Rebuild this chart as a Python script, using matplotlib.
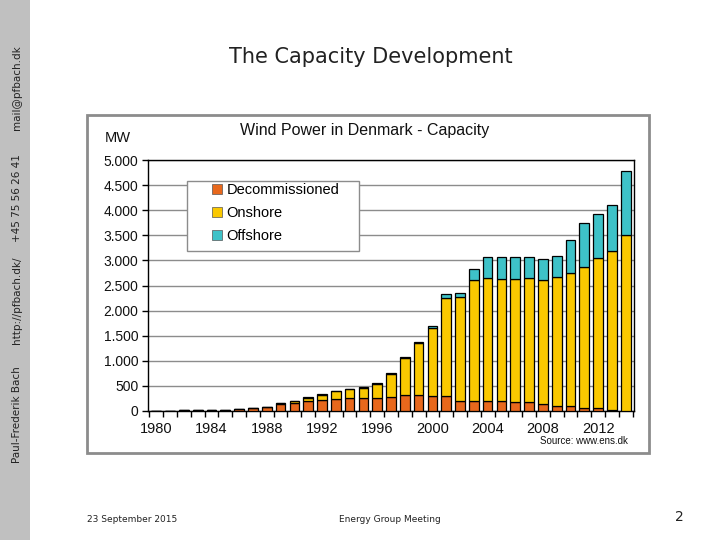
import matplotlib
matplotlib.use('Agg')
import matplotlib.pyplot as plt
import numpy as np
from matplotlib.patches import Patch, Rectangle
from matplotlib.ticker import FuncFormatter, MultipleLocator

# --- data (MW) ---
years = list(range(1980, 2015))
decommissioned = [5, 7, 10, 20, 22, 25, 45, 65, 85, 140, 150, 193, 219, 239, 252,
                  259, 262, 279, 312, 312, 295, 299, 193, 193, 193, 193, 179, 173,
                  133, 106, 93, 53, 53, 13, 0]
onshore = [0, 0, 0, 0, 0, 0, 0, 0, 0, 20, 50, 75, 109, 156, 183,
           202, 279, 468, 747, 1046, 1352, 1958, 2084, 2417, 2450, 2430, 2457, 2470,
           2477, 2557, 2650, 2809, 2988, 3168, 3506]
offshore = [0, 0, 0, 0, 0, 0, 0, 0, 0, 0, 0, 5, 5, 5, 5,
            10, 10, 10, 10, 10, 40, 74, 67, 212, 418, 438, 438, 431,
            424, 431, 657, 877, 877, 916, 1275]
series_names = ['Decommissioned', 'Onshore', 'Offshore']
x_labels = list(range(1980, 2013, 4))

colors = ['#E8681C', '#FAC800', '#3EC2C8']

W, H = 720, 540
fig = plt.figure(figsize=(W/100, H/100), dpi=100)
fig.patch.set_facecolor('white')

# left sidebar
fig.add_artist(Rectangle((0, 0), 30/W, 1, transform=fig.transFigure,
                         facecolor='#C0C0C0', edgecolor='none', zorder=0))
side_texts = [('Paul-Frederik Bach', 415), ('http://pfbach.dk/', 300),
              ('+45 75 56 26 41', 198), ('mail@pfbach.dk', 88)]
for txt, yc in side_texts:
	fig.text(17/W, 1 - yc/H, txt, rotation=90, ha='center', va='center',
	         fontsize=7.5, color='#222222', family='DejaVu Sans')

# slide title & footer
fig.text(371/W, 1 - 57/H, 'The Capacity Development', ha='center', va='center',
         fontsize=15, color='#222222', family='DejaVu Sans')
fig.text(87/W, 1 - 519/H, '23 September 2015', ha='left', va='center',
         fontsize=6.5, color='#222222')
fig.text(390/W, 1 - 519/H, 'Energy Group Meeting', ha='center', va='center',
         fontsize=6.5, color='#222222')
fig.text(679/W, 1 - 517/H, '2', ha='center', va='center',
         fontsize=10, color='#222222')

# chart picture frame
fig.add_artist(Rectangle((87/W, 1 - 453/H), (649-87)/W, (453-115)/H,
                         transform=fig.transFigure, facecolor='white',
                         edgecolor='#8C8C8C', linewidth=2, zorder=0.5))
fig.text(365/W, 1 - 131/H, 'Wind Power in Denmark - Capacity', ha='center',
         va='center', fontsize=11.5, family='Liberation Sans', color='#111111')
fig.text(118/W, 1 - 138/H, 'MW', ha='center', va='center', fontsize=10.5,
         family='Liberation Sans', color='#111111')
fig.text(628/W, 1 - 441/H, 'Source: www.ens.dk', ha='right', va='center',
         fontsize=7, family='Liberation Sans', color='#111111')

ax = fig.add_axes((148/W, 1 - 411/H, (634-148)/W, (411-160)/H))
ax.set_facecolor('white')
ax.set_zorder(1)

x = np.array(years)
dec = np.array(decommissioned)
ons = np.array(onshore)
off = np.array(offshore)
bar_kw = dict(width=0.7, edgecolor='black', linewidth=0.9, zorder=3)
ax.bar(x, dec, color=colors[0], **bar_kw)
ax.bar(x, ons, bottom=dec, color=colors[1], **bar_kw)
ax.bar(x, off, bottom=dec + ons, color=colors[2], **bar_kw)

ax.set_xlim(1979.4, 2014.6)
ax.set_ylim(0, 5000)
ax.yaxis.set_major_locator(MultipleLocator(500))
ax.yaxis.set_major_formatter(FuncFormatter(lambda v, p: f'{v:,.0f}'.replace(',', '.')))
ax.grid(axis='y', color='#8C8C8C', linewidth=1, zorder=0)
ax.set_axisbelow(True)

ax.set_xticks(x_labels)
ax.set_xticklabels([str(v) for v in x_labels])
ax.set_xticks(np.arange(1979.5, 2015, 1), minor=True)
ax.tick_params(axis='x', which='major', length=0, pad=8, labelsize=10.5)
ax.tick_params(axis='x', which='minor', length=4, width=1, direction='out')
ax.tick_params(axis='y', length=4, width=1, direction='out', labelsize=10, pad=3)
for lbl in ax.get_xticklabels() + ax.get_yticklabels():
	lbl.set_family('Liberation Sans')
	lbl.set_color('#111111')
for sp in ax.spines.values():
	sp.set_color('black')
	sp.set_linewidth(1)

# legend box
ax.add_patch(Rectangle(((187-148)/486, (411-251)/251), (359-187)/486, 70/251,
                       transform=ax.transAxes, facecolor='white',
                       edgecolor='#8C8C8C', linewidth=1, zorder=4))
handles = [Patch(facecolor=c_, edgecolor='#555555', linewidth=0.5) for c_ in colors]
leg = ax.legend(handles, series_names, loc='upper left',
                bbox_to_anchor=((212-148)/486, (411-183)/251),
                frameon=False, borderpad=0, borderaxespad=0,
                handlelength=0.7, handleheight=0.7, handletextpad=0.3,
                labelspacing=0.62, prop={'family': 'Liberation Sans', 'size': 10.5})
leg.set_zorder(5)

fig.savefig('out.png', dpi=100)
